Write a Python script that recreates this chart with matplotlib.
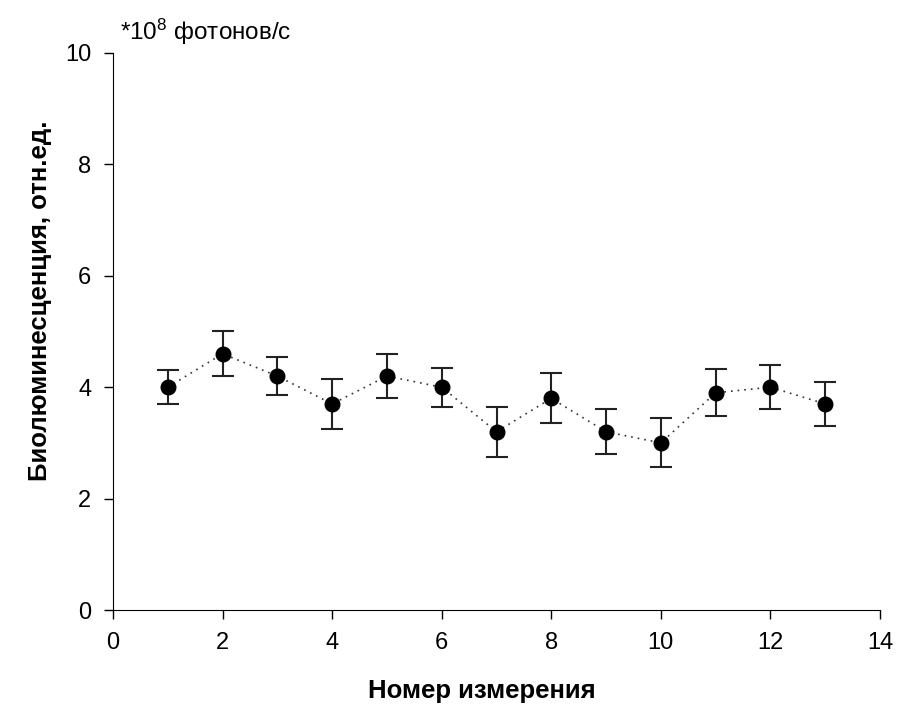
import matplotlib
matplotlib.use("Agg")
import matplotlib.pyplot as plt

plt.rcParams["font.family"] = ["Liberation Sans", "DejaVu Sans"]
plt.rcParams["mathtext.fontset"] = "custom"
plt.rcParams["mathtext.rm"] = "Liberation Sans"
plt.rcParams["mathtext.it"] = "Liberation Sans"

# measurement number, luminescence (*1e8 photons/s), error
measurement = [1, 2, 3, 4, 5, 6, 7, 8, 9, 10, 11, 12, 13]
luminescence = [4.0, 4.6, 4.2, 3.7, 4.2, 4.0, 3.2, 3.8, 3.2, 3.0, 3.9, 4.0, 3.7]
error = [0.3, 0.4, 0.34, 0.45, 0.4, 0.35, 0.45, 0.45, 0.4, 0.44, 0.42, 0.4, 0.4]

x_ticks = [0, 2, 4, 6, 8, 10, 12, 14]
y_ticks = [0, 2, 4, 6, 8, 10]

fig = plt.figure(figsize=(9.02, 7.10), dpi=100)
ax = fig.add_axes([0.1253, 0.1408, 0.8503, 0.7846])

ax.errorbar(measurement, luminescence, yerr=error, fmt="o", color="black",
            markersize=10.5, ecolor="#222222", elinewidth=1.5, capsize=8,
            capthick=1.5, zorder=3)
ax.plot(measurement, luminescence, linestyle=(0, (1, 3)), color="#333333",
        linewidth=1.2, zorder=2)

ax.set_xlim(0, 14)
ax.set_ylim(0, 10)
ax.set_xticks(x_ticks)
ax.set_yticks(y_ticks)
ax.tick_params(direction="out", length=6.5, width=1, labelsize=17, pad=9)

ax.spines["top"].set_visible(False)
ax.spines["right"].set_visible(False)

ax.set_xlabel("Номер измерения", fontsize=18.5, fontweight="bold")
ax.set_ylabel("Биолюминесценция, отн.ед.", fontsize=18.5, fontweight="bold")
ax.xaxis.set_label_coords(0.481, -0.124)
ax.yaxis.set_label_coords(-0.080, 0.555)

fig.text(0.133, 0.955, r"*10$^{8}$ фотонов/с", fontsize=17.5, va="center")

fig.savefig("out.png", dpi=100)
